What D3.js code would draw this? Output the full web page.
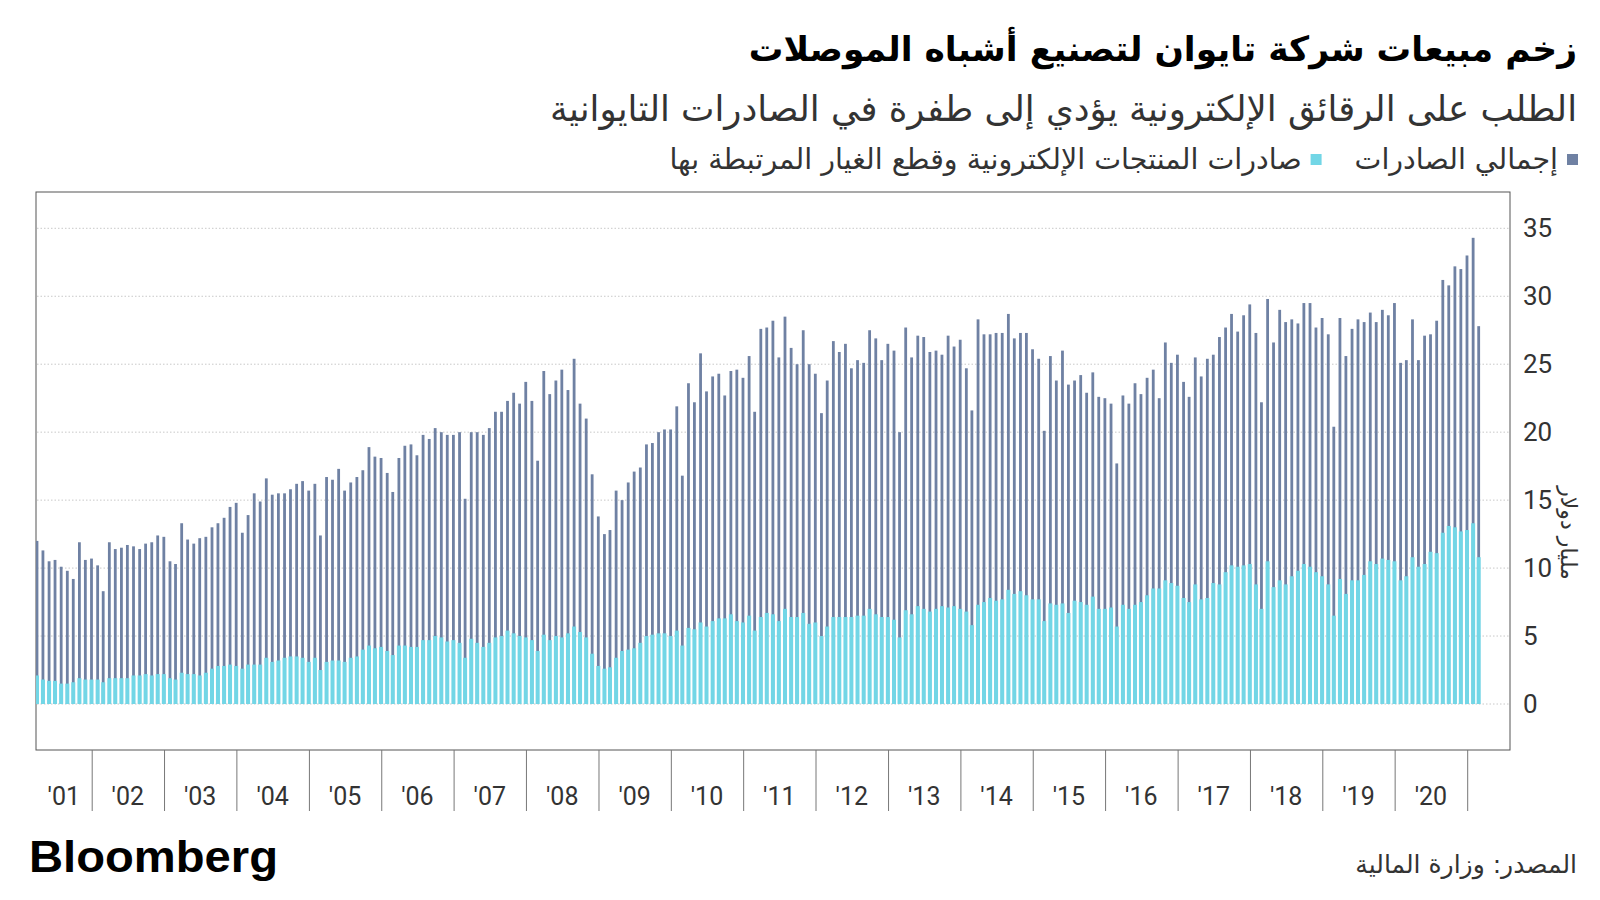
<!DOCTYPE html>
<html>
<head>
<meta charset="utf-8">
<script src="https://cdn.jsdelivr.net/npm/d3@7"></script>
<style>
  body { margin: 0; background: #fff; }
</style>
</head>
<body>
<script>
// monthly data, March 2001 to February 2021, billion US$
const startYear = 2001
const startMonth = 2 // March

const totalExports = [
  12.0, 11.3, 10.5, 10.6, 10.1, 9.8, 9.2, 11.9, 10.6, 10.7, 10.2, 8.3, 11.9, 11.4, 11.5, 11.7, 11.6, 11.4, 11.8, 11.9, 12.4, 12.3,
  10.5, 10.3, 13.3, 12.1, 11.8, 12.2, 12.3, 13.0, 13.3, 13.7, 14.5, 14.8, 12.6, 13.9, 15.5, 14.9, 16.6, 15.4, 15.5, 15.5, 15.8,
  16.2, 16.4, 15.7, 16.2, 12.4, 16.7, 16.5, 17.3, 15.7, 16.3, 16.7, 17.2, 18.9, 18.2, 18.1, 17.0, 15.6, 18.1, 19.0, 19.1, 18.3, 19.8,
  19.5, 20.3, 20.0, 19.8, 19.8, 20.0, 15.1, 20.0, 20.0, 19.8, 20.3, 21.5, 21.5, 22.3, 22.9, 22.1, 23.7, 22.3, 17.9, 24.5, 22.8,
  23.8, 24.6, 23.1, 25.4, 22.1, 21.0, 16.9, 13.8, 12.5, 12.8, 15.7, 15.0, 16.3, 17.1, 17.4, 19.1, 19.2, 20.0, 20.2, 20.2, 21.9, 16.8,
  23.6, 22.2, 25.8, 23.0, 24.1, 24.3, 22.7, 24.5, 24.6, 24.0, 25.6, 21.5, 27.6, 27.7, 28.2, 25.5, 28.5, 26.2, 25.0, 27.5, 25.0, 24.3,
  21.4, 23.8, 26.7, 25.9, 26.5, 24.7, 25.3, 25.1, 27.5, 26.9, 25.3, 26.5, 26.0, 20.0, 27.7, 25.5, 27.1, 27.0, 25.9, 26.0, 25.7,
  27.1, 26.3, 26.8, 24.7, 21.6, 28.3, 27.2, 27.2, 27.3, 27.3, 28.7, 26.9, 27.3, 27.3, 26.1, 25.4, 20.1, 25.6, 23.8, 26.0, 23.5, 23.8,
  24.2, 22.9, 24.4, 22.6, 22.5, 22.1, 17.7, 22.7, 22.1, 23.6, 22.8, 24.0, 24.6, 22.5, 26.6, 25.1, 25.7, 23.7, 22.6, 25.5, 24.1,
  25.4, 25.7, 27.0, 27.7, 28.7, 27.4, 28.6, 29.4, 27.3, 22.2, 29.8, 26.6, 29.0, 28.1, 28.3, 28.0, 29.5, 29.5, 27.7, 28.4, 27.2, 20.4,
  28.4, 25.6, 27.6, 28.3, 28.1, 28.8, 28.1, 29.0, 28.6, 29.5, 25.1, 25.3, 28.3, 25.3, 27.1, 27.2, 28.2, 31.2, 30.8, 32.2, 32.0, 33.0, 34.3, 27.8
]

const electronicsExports = [
  2.1, 1.8, 1.7, 1.7, 1.5, 1.5, 1.6, 1.9, 1.8, 1.8, 1.8, 1.6, 1.9, 1.9, 1.9, 1.9, 2.1, 2.1, 2.2, 2.1, 2.2, 2.2,
  1.9, 1.8, 2.3, 2.2, 2.2, 2.1, 2.3, 2.6, 2.8, 2.8, 2.9, 2.8, 2.6, 2.9, 2.9, 2.9, 3.4, 3.1, 3.2, 3.4, 3.5,
  3.5, 3.4, 3.1, 3.4, 2.5, 3.1, 3.2, 3.2, 3.1, 3.4, 3.5, 4.0, 4.3, 4.1, 4.2, 3.9, 3.6, 4.3, 4.3, 4.2, 4.2, 4.7,
  4.7, 5.0, 4.9, 4.6, 4.7, 4.5, 3.4, 4.8, 4.5, 4.2, 4.5, 4.9, 5.0, 5.4, 5.2, 5.0, 4.9, 4.7, 3.9, 5.1, 4.7,
  5.0, 4.9, 5.2, 5.7, 5.3, 4.9, 3.7, 2.8, 2.6, 2.7, 3.4, 3.9, 4.0, 4.1, 4.5, 5.0, 5.1, 5.2, 5.2, 5.0, 5.4, 4.3,
  5.6, 5.5, 6.0, 5.7, 6.1, 6.3, 6.3, 6.6, 6.1, 6.0, 6.5, 5.4, 6.4, 6.7, 6.6, 6.1, 7.0, 6.4, 6.4, 6.7, 5.9, 6.0,
  5.0, 5.7, 6.4, 6.4, 6.4, 6.4, 6.5, 6.5, 7.0, 6.6, 6.4, 6.4, 6.2, 4.9, 6.9, 6.6, 7.2, 7.0, 6.8, 7.0, 7.2,
  7.1, 7.2, 7.0, 6.8, 5.8, 7.3, 7.5, 7.8, 7.6, 7.7, 8.4, 8.1, 8.3, 8.0, 7.7, 7.7, 6.1, 7.4, 7.3, 7.4, 6.7, 7.6,
  7.5, 7.3, 7.9, 7.0, 7.0, 7.1, 5.7, 7.3, 7.0, 7.3, 7.5, 8.0, 8.5, 8.5, 9.1, 8.9, 8.7, 7.8, 7.5, 8.8, 7.7,
  7.8, 8.9, 8.8, 9.7, 10.2, 10.1, 10.2, 10.3, 8.8, 7.0, 10.5, 8.6, 9.1, 8.8, 9.4, 9.8, 10.3, 10.1, 9.7, 9.4, 8.8, 6.5,
  9.2, 8.1, 9.1, 9.1, 9.5, 10.5, 10.3, 10.7, 10.6, 10.5, 9.1, 9.4, 10.8, 10.1, 10.3, 11.2, 11.1, 12.6, 13.1, 13.0, 12.7, 12.8, 13.3, 10.8
]

const yearLabels = ["'01", "'02", "'03", "'04", "'05", "'06", "'07", "'08", "'09", "'10",
  "'11", "'12", "'13", "'14", "'15", "'16", "'17", "'18", "'19", "'20"]
const yTicks = [0, 5, 10, 15, 20, 25, 30, 35]

const title = 'زخم مبيعات شركة تايوان لتصنيع أشباه الموصلات'
const subtitle = 'الطلب على الرقائق الإلكترونية يؤدي إلى طفرة في الصادرات التايوانية'
const seriesNames = ['إجمالي الصادرات', 'صادرات المنتجات الإلكترونية وقطع الغيار المرتبطة بها']
const unitLabel = 'مليار دولار'
const source = 'المصدر: وزارة المالية'

const width = 1600
const height = 900
const plot = { left: 36, top: 192, right: 1510, bottom: 750 }
const darkColor = '#6f81a3'
const cyanColor = '#72d6e6'
const arabicFont = "'DejaVu Sans', sans-serif"
const numFont = "Roboto, 'Liberation Sans', sans-serif"

// each month is plotted at its last day
const dates = totalExports.map((d, i) => new Date(startYear, startMonth + i + 1, 0))

const xScale = d3.scaleTime()
  .domain([new Date(2001, 2, 26), new Date(2021, 7, 5)])
  .range([plot.left, plot.right])
const yScale = d3.scaleLinear()
  .domain([0, 35])
  .range([704, 228.3])

const svg = d3.select('body')
  .append('svg')
  .attr('width', width)
  .attr('height', height)

// titles
svg.append('text')
  .attr('x', 1577).attr('y', 61)
  .attr('direction', 'rtl').attr('text-anchor', 'start')
  .style('font-family', arabicFont).style('font-weight', 'bold')
  .style('font-size', '34.5px').attr('fill', '#000')
  .text(title)

svg.append('text')
  .attr('x', 1577).attr('y', 121)
  .attr('direction', 'rtl').attr('text-anchor', 'start')
  .style('font-family', arabicFont)
  .style('font-size', '35.5px').attr('fill', '#333')
  .text(subtitle)

// legend, laid out from the right
let lx = 1578
seriesNames.forEach((name, i) => {
  svg.append('rect')
    .attr('x', lx - 11).attr('y', 154)
    .attr('width', 11).attr('height', 11)
    .attr('fill', i === 0 ? darkColor : cyanColor)
  const t = svg.append('text')
    .attr('x', lx - 20).attr('y', 169)
    .attr('direction', 'rtl').attr('text-anchor', 'start')
    .style('font-family', arabicFont)
    .style('font-size', '28.5px').attr('fill', '#333')
    .text(name)
  lx = lx - 20 - t.node().getComputedTextLength() - 33
})

// plot frame
svg.append('rect')
  .attr('x', plot.left).attr('y', plot.top)
  .attr('width', plot.right - plot.left).attr('height', plot.bottom - plot.top)
  .attr('fill', 'none').attr('stroke', '#555').attr('stroke-width', 1)

svg.append('clipPath').attr('id', 'clip')
  .append('rect')
  .attr('x', plot.left).attr('y', plot.top)
  .attr('width', plot.right - plot.left).attr('height', plot.bottom - plot.top)

// grid
svg.append('g')
  .selectAll('line')
  .data(yTicks)
  .join('line')
  .attr('x1', plot.left + 1).attr('x2', plot.right)
  .attr('y1', d => yScale(d)).attr('y2', d => yScale(d))
  .attr('stroke', '#c8c8c8').attr('stroke-width', 1)
  .attr('stroke-dasharray', '1.5,2')

const bars = svg.append('g').attr('clip-path', 'url(#clip)')

bars.selectAll('rect.total')
  .data(totalExports)
  .join('rect')
  .attr('class', 'total')
  .attr('x', (d, i) => xScale(dates[i]) - 1.4)
  .attr('width', 2.8)
  .attr('y', d => yScale(d))
  .attr('height', d => yScale(0) - yScale(d))
  .attr('fill', darkColor)

bars.selectAll('rect.elec')
  .data(electronicsExports)
  .join('rect')
  .attr('class', 'elec')
  .attr('x', (d, i) => xScale(dates[i]) - 2)
  .attr('width', 4)
  .attr('y', d => yScale(d))
  .attr('height', d => yScale(0) - yScale(d))
  .attr('fill', cyanColor)

// y axis on the right
const yAxis = d3.axisRight(yScale)
  .tickValues(yTicks)
  .tickSize(0)
  .tickPadding(13)

const yg = svg.append('g')
  .attr('transform', `translate(${plot.right}, 0)`)
  .call(yAxis)
yg.select('.domain').remove()
yg.selectAll('text')
  .style('font-family', numFont).style('font-size', '26px').attr('fill', '#333')

svg.append('text')
  .attr('transform', 'translate(1561, 533) rotate(90)')
  .attr('text-anchor', 'middle')
  .style('font-family', arabicFont).style('font-size', '22px').attr('fill', '#333')
  .text(unitLabel)

// x axis: year separators below the frame
const yearStarts = d3.timeYear.range(new Date(2002, 0, 1), new Date(2021, 6, 1))
const xAxis = d3.axisBottom(xScale)
  .tickValues(yearStarts)
  .tickSize(61)
  .tickFormat('')

const xg = svg.append('g')
  .attr('transform', `translate(0, ${plot.bottom})`)
  .call(xAxis)
xg.select('.domain').remove()
xg.selectAll('line').attr('stroke', '#777')

svg.append('g')
  .selectAll('text')
  .data(yearLabels)
  .join('text')
  .attr('x', (d, i) => {
    const a = Math.max(xScale(new Date(2001 + i, 0, 1)), plot.left)
    const b = xScale(new Date(2002 + i, 0, 1))
    return (a + b) / 2
  })
  .attr('y', 805)
  .attr('text-anchor', 'middle')
  .style('font-family', numFont).style('font-size', '25px').attr('fill', '#333')
  .text(d => d)

// footer
svg.append('text')
  .attr('x', 29).attr('y', 872)
  .attr('textLength', 249).attr('lengthAdjust', 'spacingAndGlyphs')
  .style('font-family', "'Liberation Sans', Arial, sans-serif").style('font-weight', 'bold')
  .style('font-size', '44px').attr('fill', '#000')
  .text('Bloomberg')

svg.append('text')
  .attr('x', 1577).attr('y', 873)
  .attr('direction', 'rtl').attr('text-anchor', 'start')
  .style('font-family', arabicFont)
  .style('font-size', '25px').attr('fill', '#333')
  .text(source)
</script>
</body>
</html>
